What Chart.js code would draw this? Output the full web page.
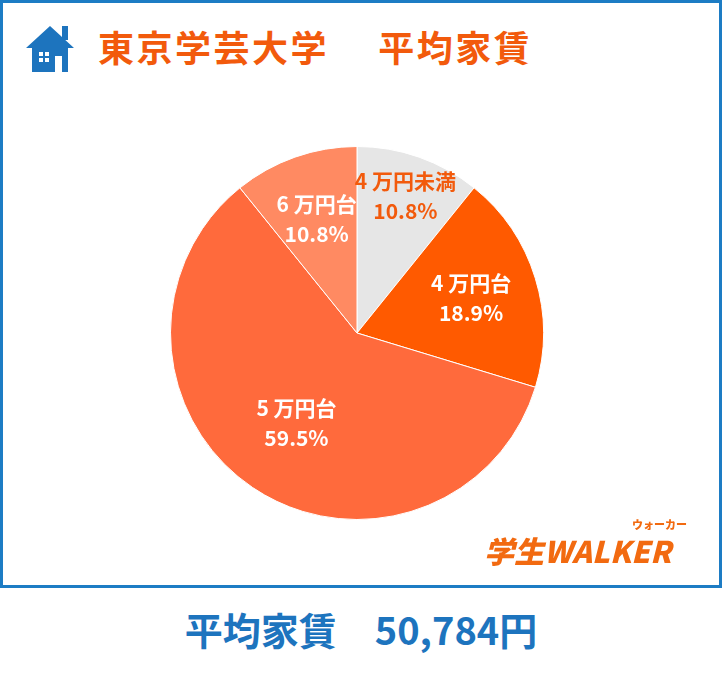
<!DOCTYPE html>
<html><head><meta charset="utf-8">
<script src="https://cdn.jsdelivr.net/npm/chart.js@4"></script>
<style>
body{margin:0;width:722px;height:676px;background:#fff;font-family:"Noto Sans CJK JP",sans-serif;overflow:hidden}
#frame{position:absolute;left:0;top:0;width:716px;height:582px;border:3px solid #1d7cc4}
#title{position:absolute;left:98px;top:20px;font-size:36px;font-weight:bold;color:#f25a0c;letter-spacing:2.5px;white-space:pre}
#bottom{position:absolute;left:0;width:722px;top:601px;text-align:center;font-size:38px;font-weight:bold;color:#1d74be;white-space:pre}
#logo{position:absolute;left:484px;top:528px;font-size:30px;font-weight:900;color:#f26a10;font-style:italic;white-space:nowrap}
#logo small{position:absolute;left:148px;top:-12px;font-size:11px;font-style:normal;white-space:nowrap}
#wrap{position:absolute;left:157px;top:133px;width:400px;height:400px}
</style></head><body>
<div id="frame"></div>
<svg style="position:absolute;left:22px;top:20px" width="56" height="56" viewBox="0 0 56 56">
<path d="M4 28 L28 6 L52 28 L46 28 L46 52 L10 52 L10 28 Z" fill="#1d74be"/>
<rect x="40" y="6" width="6" height="14" fill="#1d74be"/>
<rect x="17" y="32" width="4" height="4" fill="#fff"/><rect x="23" y="32" width="4" height="4" fill="#fff"/>
<rect x="17" y="38" width="4" height="4" fill="#fff"/><rect x="23" y="38" width="4" height="4" fill="#fff"/>
<rect x="33" y="36" width="7" height="16" fill="#fff"/>
</svg>
<div id="title">東京学芸大学　 平均家賃</div>
<div id="wrap"><canvas id="c"></canvas></div>
<div id="logo">学生WALKER<small>ウォーカー</small></div>
<div id="bottom">平均家賃　50,784円</div>
<script>
const categories=["4万円未満","4万円台","5万円台","6万円台"];
const values=[10.8,18.9,59.5,10.8];
const colors=["#e6e6e6","#ff5a00","#ff6a3c","#ff8a62"];
const labelColors=["#f25a0c","#fff","#fff","#fff"];
const labelR=[0.78,0.64,0.58,0.65];
const labelPlugin={id:"lbl",afterDatasetsDraw(chart){
 const ctx=chart.ctx;const meta=chart.getDatasetMeta(0);
 meta.data.forEach((arc,i)=>{
  const a=(arc.startAngle+arc.endAngle)/2;const r=arc.outerRadius*labelR[i];
  const x=arc.x+Math.cos(a)*r,y=arc.y+Math.sin(a)*r;
  ctx.save();ctx.fillStyle=labelColors[i];ctx.font="bold 21px 'Noto Sans CJK JP'";ctx.textAlign="center";ctx.textBaseline="middle";
  ctx.fillText(categories[i].replace(/^(\d)/,"$1 "),x,y-15);
  ctx.fillText(values[i].toFixed(1)+"%",x,y+15);ctx.restore();
 });}};
new Chart(document.getElementById("c"),{type:"pie",
data:{labels:categories,datasets:[{data:values,backgroundColor:colors,borderColor:"#fff",borderWidth:1}]},
options:{responsive:true,maintainAspectRatio:false,animation:false,layout:{padding:13},
plugins:{legend:{display:false},tooltip:{enabled:false}}},plugins:[labelPlugin]});
</script></body></html>
